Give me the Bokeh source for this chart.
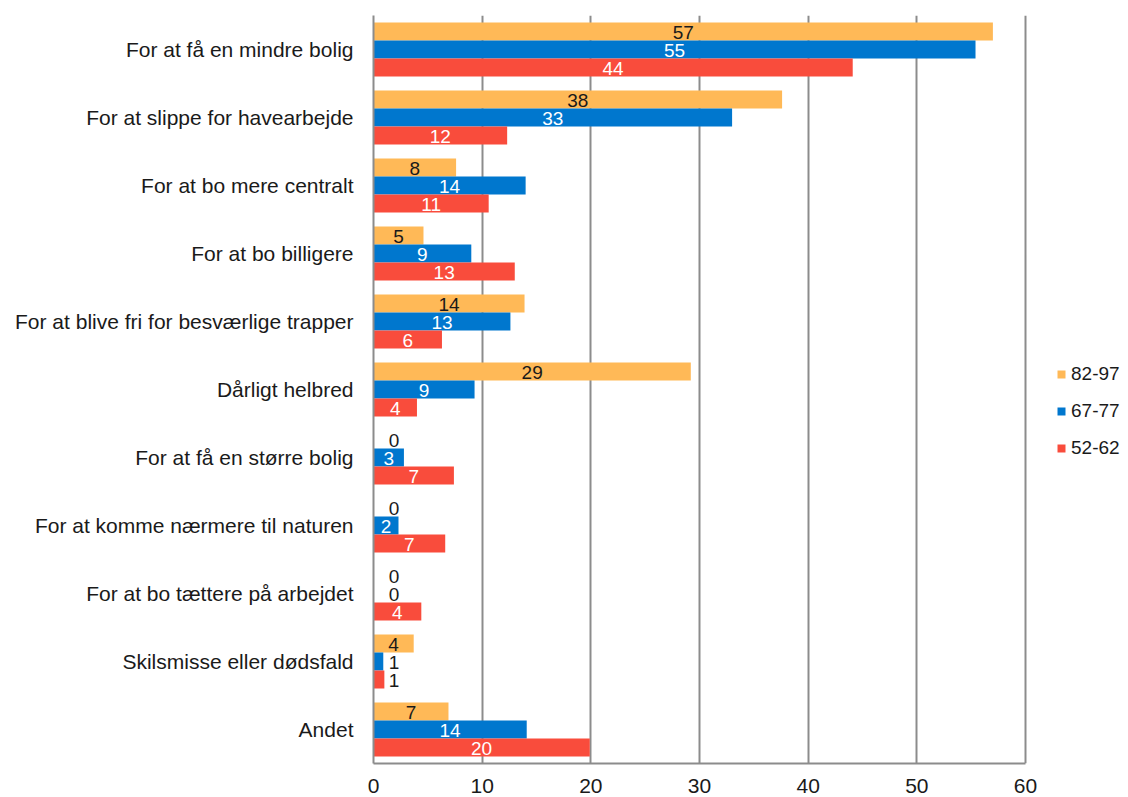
from bokeh.plotting import figure
from bokeh.models import ColumnDataSource, Range1d, FixedTicker, Legend, LegendItem
from bokeh.core.properties import value
from bokeh.embed import file_html
from bokeh.resources import INLINE

categories = [
    "For at få en mindre bolig",
    "For at slippe for havearbejde",
    "For at bo mere centralt",
    "For at bo billigere",
    "For at blive fri for besværlige trapper",
    "Dårligt helbred",
    "For at få en større bolig",
    "For at komme nærmere til naturen",
    "For at bo tættere på arbejdet",
    "Skilsmisse eller dødsfald",
    "Andet",
]
series_names = ["82-97", "67-77", "52-62"]
vals_82_97 = [57.0, 37.6, 7.6, 4.6, 13.9, 29.2, 0.0, 0.0, 0.0, 3.7, 6.9]
vals_67_77 = [55.4, 33.0, 14.0, 9.0, 12.6, 9.3, 2.8, 2.3, 0.0, 0.9, 14.1]
vals_52_62 = [44.1, 12.3, 10.6, 13.0, 6.3, 4.0, 7.4, 6.6, 4.4, 1.0, 19.9]
x_ticks = [0, 10, 20, 30, 40, 50, 60]

colors = ["#FFB957", "#0077CE", "#F94C3C"]
label_colors = ["#1a1a1a", "white", "white"]
offsets = [-0.265, 0.0, 0.265]
bar_h = 0.262
FONT = "Liberation Sans"

# frame spans x=373..1128 px; the axis itself (0..60) covers 373..1025 px
X_MAX = 60.0
X_END = X_MAX * (1128 - 373) / (1025 - 373)

p = figure(width=1128, height=797, output_backend="svg", toolbar_location=None,
           x_range=Range1d(0, X_END), y_range=Range1d(10.5, -0.5),
           min_border_left=373, min_border_right=0, min_border_top=15, min_border_bottom=34)
p.outline_line_color = None
p.background_fill_color = "white"
p.border_fill_color = "white"

items = []
for s, vals in enumerate([vals_82_97, vals_67_77, vals_52_62]):
    ys = [i + offsets[s] for i in range(len(categories))]
    src = ColumnDataSource(dict(y=ys, right=vals))
    r = p.hbar(y="y", left=0, right="right", height=bar_h, source=src,
               fill_color=colors[s], line_color=None)
    items.append(LegendItem(label=series_names[s], renderers=[r]))
    lx, ly, lt, lc, la = [], [], [], [], []
    for i, v in enumerate(vals):
        lt.append(str(int(round(v))))
        ly.append(ys[i])
        if v < 1.5:
            lx.append(1.4)
            lc.append("#1a1a1a")
            la.append("left")
        else:
            lx.append(v / 2)
            lc.append(label_colors[s])
            la.append("center")
    lsrc = ColumnDataSource(dict(x=lx, y=ly, t=lt, c=lc, a=la))
    p.text(x="x", y="y", text="t", text_color="c", text_align="a", text_baseline="middle",
           text_font=value(FONT), text_font_size="19px", source=lsrc, y_offset=1)

# axes
p.xaxis.ticker = FixedTicker(ticks=x_ticks)
p.xaxis.bounds = (0, X_MAX)
p.xaxis.axis_line_color = "#8c8c8c"
p.xaxis.axis_line_width = 2
p.xaxis.major_tick_line_color = None
p.xaxis.minor_tick_line_color = None
p.xaxis.major_label_text_font = FONT
p.xaxis.major_label_text_font_size = "21px"
p.xaxis.major_label_text_color = "#1a1a1a"
p.xaxis.major_label_standoff = 9

p.yaxis.ticker = FixedTicker(ticks=list(range(len(categories))))
p.yaxis.major_label_overrides = {i: c for i, c in enumerate(categories)}
p.yaxis.axis_line_color = "#8c8c8c"
p.yaxis.axis_line_width = 2
p.yaxis.major_tick_line_color = None
p.yaxis.minor_tick_line_color = None
p.yaxis.major_label_text_font = FONT
p.yaxis.major_label_text_font_size = "21px"
p.yaxis.major_label_text_color = "#1a1a1a"
p.yaxis.major_label_standoff = 14

p.xgrid.grid_line_color = "#8c8c8c"
p.xgrid.grid_line_width = 2
p.xgrid.bounds = (0, 10.5)
p.ygrid.grid_line_color = None

legend = Legend(items=items, location=(683, 304), orientation="vertical",
                border_line_color=None, background_fill_alpha=0,
                label_text_font=FONT, label_text_font_size="19px",
                label_text_color="#1a1a1a",
                glyph_width=10, glyph_height=10, label_height=20,
                spacing=15, label_standoff=5, padding=0, margin=0)
p.add_layout(legend)

open("out.html", "w").write(file_html(p, INLINE))
